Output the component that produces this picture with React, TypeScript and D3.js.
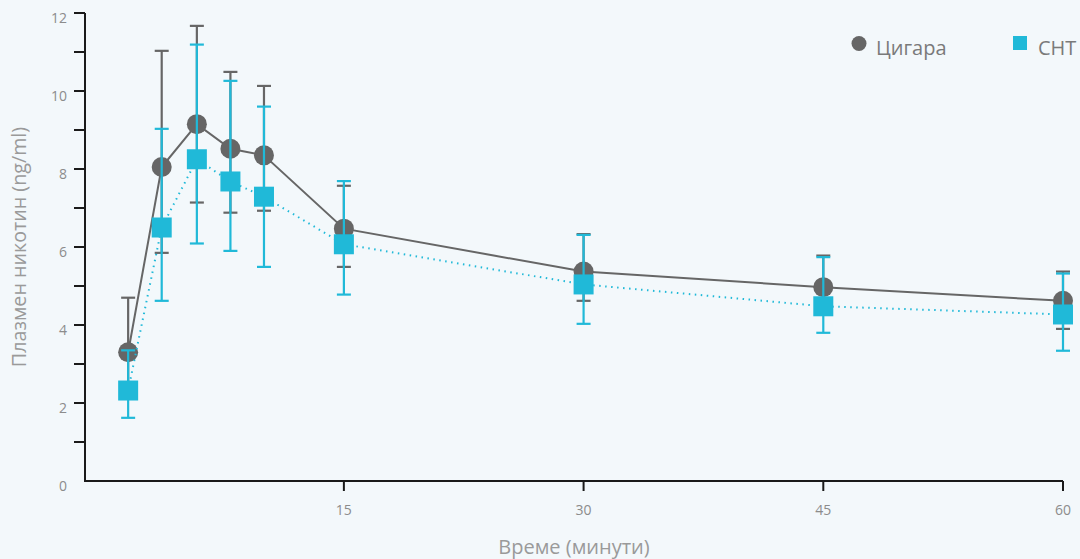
import React from "react";
import * as d3 from "d3";

// minutes after start of use
const times = [1.5, 3.6, 5.8, 7.9, 10, 15, 30, 45, 60];

// Цигара (cigarette)
const cigMean = [3.3, 8.05, 9.15, 8.52, 8.35, 6.47, 5.37, 4.97, 4.62];
const cigUpper = [4.7, 11.03, 11.67, 10.49, 10.13, 7.57, 6.33, 5.78, 5.37];
const cigLower = [2.15, 5.85, 7.14, 6.88, 6.93, 5.49, 4.62, 4.3, 3.9];

// СНТ
const nrtMean = [2.32, 6.5, 8.25, 7.68, 7.29, 6.07, 5.04, 4.48, 4.27];
const nrtUpper = [3.35, 9.03, 11.19, 10.26, 9.6, 7.69, 6.31, 5.74, 5.32];
const nrtLower = [1.62, 4.62, 6.09, 5.9, 5.49, 4.78, 4.03, 3.8, 3.34];

const xTicks = [15, 30, 45, 60];
const yTicks = [1, 2, 3, 4, 5, 6, 7, 8, 9, 10, 11, 12];
const yLabels = [0, 2, 4, 6, 8, 10, 12];

const GRAY = "#666666";
const BLUE = "#20b9d8";
const FONT = "'Open Sans', sans-serif";

export default function App() {
  const width = 1080;
  const height = 559;
  const margin = { top: 13, left: 85, right: 17, bottom: 78 };

  const xScale = d3.scaleLinear().domain([-1.2, 60]).range([margin.left, width - margin.right]);
  const yScale = d3.scaleLinear().domain([0, 12]).range([height - margin.bottom, margin.top]);

  const cigRows = times.map((t, i) => ({ t, m: cigMean[i], hi: cigUpper[i], lo: cigLower[i] }));
  const nrtRows = times.map((t, i) => ({ t, m: nrtMean[i], hi: nrtUpper[i], lo: nrtLower[i] }));

  const line = d3.line<{ t: number; m: number }>()
    .x((d) => xScale(d.t))
    .y((d) => yScale(d.m));

  const x0 = xScale.range()[0];
  const x1 = xScale.range()[1];
  const yBottom = yScale(0);
  const yTop = yScale(12);

  const errorBars = (rows, color, key) =>
    rows.map((d, i) => (
      <g key={key + i} stroke={color} strokeWidth={2.2}>
        <line x1={xScale(d.t)} x2={xScale(d.t)} y1={yScale(d.hi)} y2={yScale(d.lo)} />
        <line x1={xScale(d.t) - 7} x2={xScale(d.t) + 7} y1={yScale(d.hi)} y2={yScale(d.hi)} />
        <line x1={xScale(d.t) - 7} x2={xScale(d.t) + 7} y1={yScale(d.lo)} y2={yScale(d.lo)} />
      </g>
    ));

  return (
    <svg
      width={width}
      height={height}
      style={{ position: "absolute", left: 0, top: 0, background: "#f3f8fb" }}
      fontFamily={FONT}
    >
      {/* y axis */}
      <line x1={x0} x2={x0} y1={yTop} y2={yBottom} stroke="#1a1a1a" strokeWidth={2} />
      {yTicks.map((v) => (
        <line key={"yt" + v} x1={x0 - 11} x2={x0} y1={yScale(v)} y2={yScale(v)} stroke="#1a1a1a" strokeWidth={2} />
      ))}
      {yLabels.map((v) => (
        <text key={"yl" + v} x={67} y={yScale(v) + 10} textAnchor="end" fontSize={14} fill="#8c8c8c">
          {v}
        </text>
      ))}
      <text
        transform={`translate(26,${(yTop + yBottom) / 2}) rotate(-90)`}
        textAnchor="middle"
        fontSize={19.7}
        fill="#9a9a9a"
      >
        Плазмен никотин (ng/ml)
      </text>

      {/* x axis */}
      <line x1={x0 - 1} x2={x1} y1={yBottom} y2={yBottom} stroke="#1a1a1a" strokeWidth={2} />
      {xTicks.map((v) => (
        <g key={"xt" + v}>
          <line x1={xScale(v)} x2={xScale(v)} y1={yBottom} y2={yBottom + 10} stroke="#1a1a1a" strokeWidth={2} />
          <text x={xScale(v)} y={yBottom + 34} textAnchor="middle" fontSize={14} fill="#8c8c8c">
            {v}
          </text>
        </g>
      ))}
      <text x={(x0 + x1) / 2} y={554} textAnchor="middle" fontSize={20} fill="#9a9a9a">
        Време (минути)
      </text>

      {/* cigarette series */}
      <path d={line(cigRows)} fill="none" stroke={GRAY} strokeWidth={2} />
      {errorBars(cigRows, GRAY, "ce")}
      {cigRows.map((d, i) => (
        <circle key={"c" + i} cx={xScale(d.t)} cy={yScale(d.m)} r={10} fill={GRAY} />
      ))}

      {/* NRT series */}
      <path d={line(nrtRows)} fill="none" stroke={BLUE} strokeWidth={2} strokeDasharray="1.5 4.5" />
      {errorBars(nrtRows, BLUE, "ne")}
      {nrtRows.map((d, i) => (
        <rect key={"n" + i} x={xScale(d.t) - 10} y={yScale(d.m) - 10} width={20} height={20} fill={BLUE} />
      ))}

      {/* legend */}
      <circle cx={859} cy={43.5} r={7.5} fill={GRAY} />
      <text x={876} y={55} fontSize={20} fill="#7a7a7a">Цигара</text>
      <rect x={1013} y={36} width={14} height={14} fill={BLUE} />
      <text x={1038} y={55} fontSize={20} fill="#7a7a7a">СНТ</text>
    </svg>
  );
}
